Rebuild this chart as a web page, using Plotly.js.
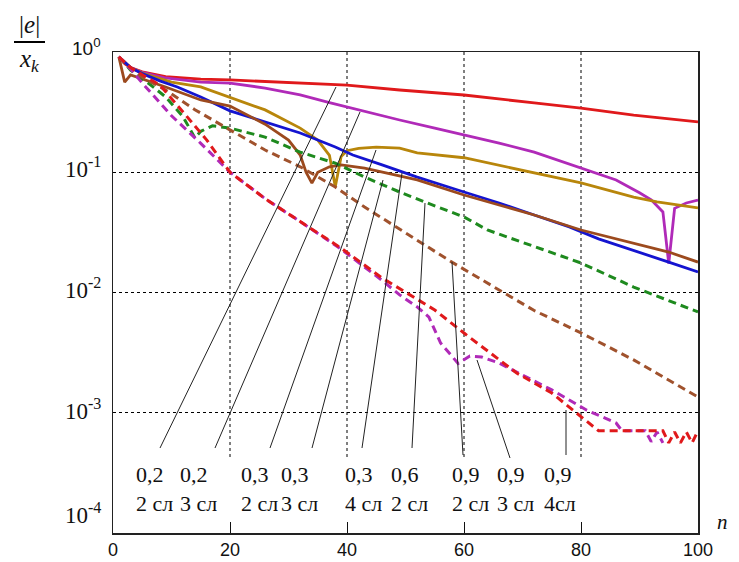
<!DOCTYPE html>
<html>
<head>
<meta charset="utf-8">
<script src="https://cdn.plot.ly/plotly-3.0.1.min.js"></script>
<style>html,body{margin:0;padding:0;background:#fff;}#chart{width:739px;height:562px;}</style>
</head>
<body>
<div id="chart"></div>
<script>
// ---- data ----
const n_red02_2 = [1,2,3,5,9,15,20,26,32,40,49,60,72,80,89,100];
const v_red02_2 = [0.912,0.80,0.741,0.684,0.624,0.596,0.586,0.569,0.552,0.530,0.483,0.439,0.377,0.342,0.299,0.262];

const n_mag02_3 = [1,3,5,9,15,20,26,32,37,42,49,55,60,66,72,80,86,90,92,94,95,96,98,100];
const v_mag02_3 = [0.912,0.741,0.676,0.608,0.562,0.552,0.501,0.439,0.380,0.330,0.272,0.233,0.204,0.175,0.147,0.108,0.0863,0.0676,0.0589,0.0468,0.0174,0.0501,0.0555,0.0587];

const n_gold03_2 = [1,3,5,10,15,20,26,32,35,37,38,39,40,42,45,49,52,60,72,80,89,93,100];
const v_gold03_2 = [0.912,0.741,0.668,0.562,0.512,0.422,0.330,0.233,0.185,0.138,0.0759,0.135,0.151,0.158,0.162,0.159,0.145,0.132,0.0986,0.0815,0.0622,0.0566,0.0505];

const n_blue = [1,3,5,8,11,15,20,26,32,38,41,46,52,60,66,72,78,83,89,95,100];
const v_blue = [0.912,0.741,0.661,0.575,0.512,0.423,0.324,0.262,0.212,0.162,0.139,0.115,0.0912,0.0685,0.0555,0.0441,0.0351,0.0279,0.0225,0.0179,0.0148];

const n_brown = [1,2,3,6,9,15,20,26,30,32,33,34,35,37,39,43,52,60,66,72,80,89,95,100];
const v_brown = [0.912,0.562,0.646,0.575,0.512,0.399,0.355,0.251,0.185,0.139,0.100,0.0813,0.100,0.111,0.115,0.108,0.0863,0.0647,0.0535,0.0441,0.0331,0.0258,0.0217,0.0179];

const n_green06_2 = [1,3,6,9,12,14,15,17,20,26,32,38,43,49,55,60,64,72,80,89,100];
const v_green06_2 = [0.912,0.708,0.552,0.423,0.288,0.193,0.219,0.243,0.233,0.196,0.147,0.119,0.0912,0.0685,0.0525,0.0425,0.0331,0.0240,0.0176,0.0111,0.00689];

const n_brownd09_2 = [1,3,5,9,14,20,26,32,38,43,52,58,66,72,80,89,100];
const v_brownd09_2 = [0.912,0.724,0.617,0.483,0.331,0.224,0.153,0.111,0.0753,0.0514,0.0274,0.0178,0.0105,0.00708,0.00462,0.00275,0.00135];

const n_magd09_3 = [1,3,5,10,15,20,26,32,39,46,49,52,54,56,59,61,63,66,69,75,81,86,87,90,91,92,93,94];
const v_magd09_3 = [0.912,0.724,0.552,0.295,0.174,0.100,0.0603,0.0389,0.0229,0.0126,0.00955,0.00759,0.00625,0.0038,0.00257,0.00296,0.00291,0.00259,0.00218,0.00155,0.00105,0.000822,0.000708,0.000708,0.000708,0.000575,0.000692,0.000562];

const n_redd09_4 = [1,3,5,8,12,16,20,26,32,39,46,52,55,60,69,75,80,83,90,94,95,96,97,98,99,100];
const v_redd09_4 = [0.912,0.741,0.646,0.532,0.316,0.186,0.100,0.0603,0.0389,0.0234,0.0132,0.00871,0.00716,0.0046,0.00214,0.00146,0.000923,0.000708,0.000708,0.000708,0.000562,0.000692,0.000562,0.000692,0.000562,0.000708];

const xTicks = [0,20,40,60,80,100];
const yTickVals = [1,0.1,0.01,0.001,0.0001];
const yTickText = ['10<sup>0</sup>','10<sup>-1</sup>','10<sup>-2</sup>','10<sup>-3</sup>','10<sup>-4</sup>'];
const labelTop = ['0,2','0,2','0,3','0,3','0,3','0,6','0,9','0,9','0,9'];
const labelBottom = ['2 сл','3 сл','2 сл','3 сл','4 сл','2 сл','2 сл','3 сл','4сл'];

// ---- layout helpers (pixel -> paper) ----
const PL = 113, PT = 52, PR = 698, PB = 533;
const fx = x => (x - PL) / (PR - PL);
const fy = y => (PB - y) / (PB - PT);

const RED = '#e0191b', MAG = '#b02ab8', GOLD = '#b8860b', BLUE = '#1414d0',
      BROWN = '#9c4a1e', GREEN = '#1e8a1e', BROWND = '#a0522d';
const DASH = '8px,5px';

function tr(x, y, color, dash, w) {
  return {x: x, y: y, type: 'scatter', mode: 'lines', hoverinfo: 'skip',
          line: {color: color, width: w || 2.8, dash: dash || 'solid'}};
}
const traces = [
  tr(n_red02_2, v_red02_2, RED),
  tr(n_mag02_3, v_mag02_3, MAG),
  tr(n_gold03_2, v_gold03_2, GOLD),
  tr(n_blue, v_blue, BLUE),
  tr(n_brown, v_brown, BROWN),
  tr(n_green06_2, v_green06_2, GREEN, DASH, 3),
  tr(n_brownd09_2, v_brownd09_2, BROWND, DASH, 3),
  tr(n_magd09_3, v_magd09_3, MAG, DASH, 3),
  tr(n_redd09_4, v_redd09_4, RED, DASH, 3)
];

const leaders = [[160,448,336,87],[215,448,360,112],[270,448,376,150],[312,448,383,180],
                 [362,448,402,173],[412,448,425,203],[463,455,452,262],[510,458,477,360],[566,455,566,410]];
const labelX = [134,178,239,279,343,389,450,495,542];

const shapes = [];
[20,40,60,80].forEach(v => shapes.push({type:'line', xref:'x', yref:'paper', x0:v, x1:v, y0:fy(457), y1:1,
  line:{color:'#000', width:1, dash:'dot'}, layer:'below'}));
leaders.forEach(p => shapes.push({type:'line', xref:'paper', yref:'paper',
  x0:fx(p[0]), y0:fy(p[1]), x1:fx(p[2]), y1:fy(p[3]), line:{color:'#222', width:1}}));
shapes.push({type:'line', xref:'paper', yref:'paper', x0:fx(14), x1:fx(45), y0:fy(42), y1:fy(42), line:{color:'#000', width:2}});

const annotations = [];
const serif = 'Liberation Serif';
const sans = 'Liberation Sans';
labelTop.forEach((t, i) => annotations.push({xref:'paper', yref:'paper', x:fx(labelX[i]), y:fy(460),
  xanchor:'left', yanchor:'top', align:'left', showarrow:false,
  text: t + '<br>' + labelBottom[i], font:{family:serif, size:22, color:'#111'}}));
const yLabelPy = [47, 167, 288, 409, 513];
yTickText.forEach((t, i) => annotations.push({xref:'paper', yref:'paper', x:fx(103), y:fy(yLabelPy[i]),
  xanchor:'right', yanchor:'middle', showarrow:false, text:t,
  font:{family: i === 0 ? sans : serif, size: i === 0 ? 19 : 23, color:'#111'}}));
annotations.push({xref:'paper', yref:'paper', x:fx(29), y:fy(24), xanchor:'center', yanchor:'middle', showarrow:false,
  text:'|<i>e</i>|', font:{family:serif, size:25, color:'#111'}});
annotations.push({xref:'paper', yref:'paper', x:fx(29), y:fy(61), xanchor:'center', yanchor:'middle', showarrow:false,
  text:'<i>x<sub>k</sub></i>', font:{family:serif, size:25, color:'#111'}});
annotations.push({xref:'paper', yref:'paper', x:fx(722), y:fy(522), xanchor:'center', yanchor:'middle', showarrow:false,
  text:'<i>n</i>', font:{family:serif, size:21, color:'#111'}});

const layout = {
  width: 739, height: 562,
  margin: {l: PL, r: 739 - PR, t: PT, b: 562 - PB, pad: 0},
  paper_bgcolor: '#fff', plot_bgcolor: '#fff',
  showlegend: false,
  font: {family: sans},
  xaxis: {range: [0, 100], tickvals: xTicks, ticks: 'inside', ticklen: 11, tickcolor: '#111', tickwidth: 1,
          showgrid: false, zeroline: false, showline: true, mirror: true, linecolor: '#222', linewidth: 1.5,
          tickfont: {family: sans, size: 18, color: '#111'}},
  yaxis: {type: 'log', range: [-4, 0], tickvals: yTickVals, showticklabels: false, ticks: '',
          showgrid: true, gridcolor: '#000', gridwidth: 1, griddash: 'dot', zeroline: false,
          showline: true, mirror: true, linecolor: '#222', linewidth: 1.5},
  shapes: shapes,
  annotations: annotations
};

Plotly.newPlot('chart', traces, layout, {displayModeBar: false, staticPlot: true});
</script>
</body>
</html>
